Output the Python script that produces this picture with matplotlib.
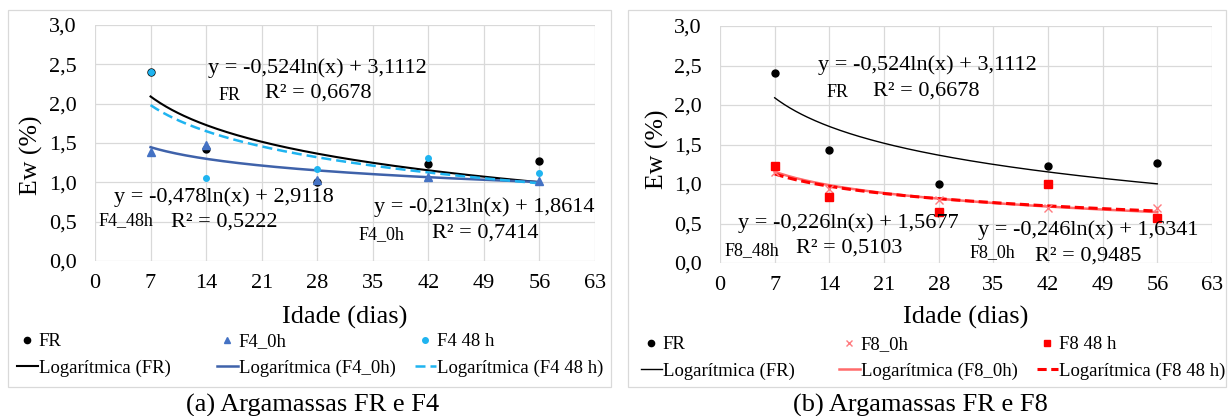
import matplotlib

matplotlib.use("Agg")
import matplotlib.pyplot as plt
import numpy as np
from matplotlib.lines import Line2D
from matplotlib.patches import Rectangle

plt.rcParams["font.family"] = ["Liberation Serif", "DejaVu Serif"]

# idade dos ensaios (dias)
idade = [7, 14, 28, 42, 56]

# absorção Ew (%) medida
ew_fr = [2.40, 1.43, 1.00, 1.23, 1.27]
ew_f4_0h = [1.38, 1.47, 1.03, 1.07, 1.02]
ew_f4_48h = [2.40, 1.06, 1.17, 1.31, 1.12]
ew_f8_0h = [1.15, 0.94, 0.80, 0.69, 0.69]
ew_f8_48h = [1.23, 0.84, 0.64, 1.00, 0.57]

# coeficientes das tendências logarítmicas y = a ln(x) + b e R²
fit_fr = (-0.524, 3.1112, 0.6678)
fit_f4_0h = (-0.213, 1.8614, 0.7414)
fit_f4_48h = (-0.478, 2.9118, 0.5222)
fit_f8_0h = (-0.246, 1.6341, 0.9485)
fit_f8_48h = (-0.226, 1.5677, 0.5103)

x_ticks = np.arange(0, 64, 7)
y_ticks = np.arange(0, 3.01, 0.5)

W, H = 1228, 416
EQ_SIZE = 16
TAG_SIZE = 13


def fx(px):
    return px / W


def fy(py):
    return 1 - py / H


def num(v, d):
    return f"{v:.{d}f}".replace(".", ",")


def eq_text(fit):
    a, b, _ = fit
    return f"y = {num(a, 3)}ln(x) + {num(b, 4)}"


def r2_text(fit):
    return f"R² = {num(fit[2], 4)}"


def trend(ax, fit, **kw):
    xs = np.linspace(idade[0], idade[-1], 200)
    ax.plot(xs, fit[0] * np.log(xs) + fit[1], **kw)


def label_fit(ax, fit, tag, eq_xy, tag_xy, r2_xy):
    ax.text(*eq_xy, eq_text(fit), fontsize=EQ_SIZE, va="center")
    ax.text(*tag_xy, tag, fontsize=TAG_SIZE, va="center")
    ax.text(*r2_xy, r2_text(fit), fontsize=EQ_SIZE, va="center")


def setup_axes(ax, ylab_y, xlab_y):
    ax.set_xlim(0, 63)
    ax.set_ylim(0, 3)
    ax.set_xticks(x_ticks)
    ax.set_yticks(y_ticks)
    ax.set_yticklabels([num(v, 1) for v in y_ticks])
    ax.grid(True, color="#d9d9d9", lw=0.9)
    ax.set_axisbelow(True)
    for s in ax.spines.values():
        s.set_visible(False)
    ax.tick_params(length=0, labelsize=16)
    ax.tick_params(axis="x", pad=9)
    ax.tick_params(axis="y", pad=13)
    ax.set_ylabel("Ew (%)", fontsize=18.5, va="center")
    ax.yaxis.set_label_coords(-0.128, ylab_y)
    ax.set_xlabel("Idade (dias)", fontsize=19, va="center")
    ax.xaxis.set_label_coords(0.5, xlab_y)


def legend_cols(fig, cols, x_px, y_px):
    # uma legenda por coluna, como nas planilhas
    for (handles, labels), x in zip(cols, x_px):
        fig.legend(handles, labels, loc="upper left",
                   bbox_to_anchor=(fx(x), fy(y_px)), frameon=False,
                   fontsize=13.5, handlelength=1.1, handletextpad=0.05,
                   borderpad=0, borderaxespad=0, labelspacing=0.5)


fig = plt.figure(figsize=(W / 100, H / 100), dpi=100)

for x0, x1 in ((8, 611), (628, 1226)):
    fig.add_artist(Rectangle((fx(x0), fy(387)), fx(x1 - x0), (387 - 10) / H,
                             transform=fig.transFigure, fill=False,
                             ec="#d9d9d9", lw=0.9))

# (a) FR e F4
ax1 = fig.add_axes([fx(95), fy(261), fx(500), 236 / H])
setup_axes(ax1, 0.45, (261 - 317) / 236)
trend(ax1, fit_fr, color="black", lw=1.5)
trend(ax1, fit_f4_0h, color="#3f62aa", lw=1.8)
trend(ax1, fit_f4_48h, color="#1fb4f0", lw=1.8, ls=(0, (4, 2)))
ax1.plot(idade, ew_fr, "o", color="black", ms=5)
ax1.plot(idade, ew_f4_0h, "^", color="#4472c4", ms=6)
ax1.plot(idade, ew_f4_48h, "o", color="#1fb4f0", ms=4)

label_fit(ax1, fit_fr, "FR", (14.2, 2.45), (15.5, 2.10), (21.4, 2.14))
label_fit(ax1, fit_f4_48h, "F4_48h", (2.4, 0.81), (0.4, 0.51), (9.6, 0.50))
label_fit(ax1, fit_f4_0h, "F4_0h", (35.1, 0.69), (33.2, 0.34), (42.5, 0.36))

legend_cols(fig, [
    ([Line2D([], [], ls="", marker="o", color="black", ms=4.5),
      Line2D([], [], color="black", lw=1.5)],
     ["FR", "Logarítmica (FR)"]),
    ([Line2D([], [], ls="", marker="^", color="#4472c4", ms=5),
      Line2D([], [], color="#3f62aa", lw=1.8)],
     ["F4_0h", "Logarítmica (F4_0h)"]),
    ([Line2D([], [], ls="", marker="o", color="#1fb4f0", ms=4),
      Line2D([], [], color="#1fb4f0", lw=1.8, ls=(0, (4, 2)))],
     ["F4 48 h", "Logarítmica (F4 48 h)"]),
], (17, 217, 415), 333)

fig.text(fx(313), fy(405), "(a) Argamassas FR e F4", fontsize=19,
         ha="center", va="center")

# (b) FR e F8
ax2 = fig.add_axes([fx(720), fy(263), fx(492), 237 / H])
setup_axes(ax2, 0.48, (263 - 317) / 237)
trend(ax2, fit_fr, color="black", lw=1.0)
trend(ax2, fit_f8_0h, color="#ff6b6b", lw=1.8)
trend(ax2, fit_f8_48h, color="#ff0000", lw=2.2, ls=(0, (3, 1.5)))
ax2.plot(idade, ew_fr, "o", color="black", ms=5)
ax2.plot(idade, ew_f8_0h, "x", color="#ff7c80", ms=5.5, mew=1)
ax2.plot(idade, ew_f8_48h, "s", color="#ff0000", ms=5.5)

label_fit(ax2, fit_fr, "FR", (12.5, 2.51), (13.6, 2.16), (19.6, 2.18))
label_fit(ax2, fit_f8_48h, "F8_48h", (2.3, 0.51), (0.6, 0.16), (9.7, 0.19))
label_fit(ax2, fit_f8_0h, "F8_0h", (33.1, 0.42), (31.9, 0.13), (40.3, 0.09))

legend_cols(fig, [
    ([Line2D([], [], ls="", marker="o", color="black", ms=4.5),
      Line2D([], [], color="black", lw=1.0)],
     ["FR", "Logarítmica (FR)"]),
    ([Line2D([], [], ls="", marker="x", color="#ff7c80", ms=5),
      Line2D([], [], color="#ff6b6b", lw=1.8)],
     ["F8_0h", "Logarítmica (F8_0h)"]),
    ([Line2D([], [], ls="", marker="s", color="#ff0000", ms=4.5),
      Line2D([], [], color="#ff0000", lw=2.2, ls=(0, (3, 1.5)))],
     ["F8 48 h", "Logarítmica (F8 48 h)"]),
], (641, 839, 1037), 336)

fig.text(fx(920), fy(405), "(b) Argamassas FR e F8", fontsize=19,
         ha="center", va="center")

fig.savefig("out.png", dpi=100)
